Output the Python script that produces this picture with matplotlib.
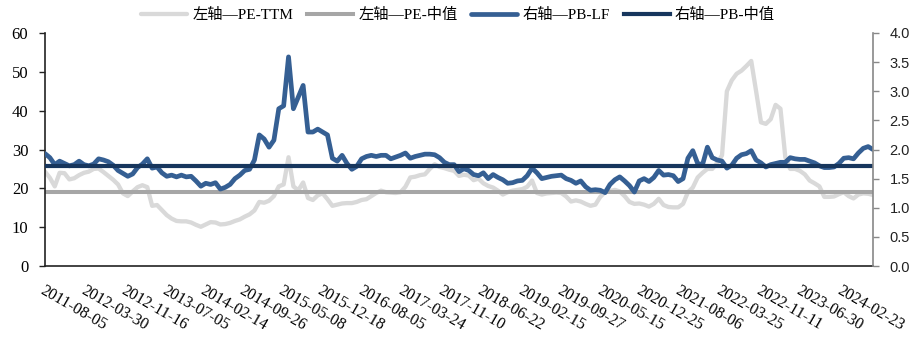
import numpy as np
import pandas as pd
import matplotlib
matplotlib.use("Agg")
import matplotlib.pyplot as plt

# Weekly valuation series, one observation every four weeks
start_date = "2011-08-05"
step = "28D"

pe_ttm = [
    24.3, 22.7, 20.5, 24.0, 23.9, 22.3, 22.6, 23.4, 24.0, 24.3,
    25.0, 25.1, 24.2, 23.2, 22.2, 21.0, 18.7, 18.0, 19.2, 20.3,
    20.8, 20.3, 15.5, 15.7, 14.4, 13.1, 12.2, 11.6, 11.5, 11.5,
    11.2, 10.6, 10.1, 10.7, 11.3, 11.2, 10.7, 10.8, 11.1, 11.6,
    12.0, 12.7, 13.3, 14.3, 16.5, 16.3, 16.8, 18.0, 20.5, 21.0,
    28.0, 20.5, 19.5, 21.5, 17.5, 17.0, 18.2, 18.7, 17.2, 15.5,
    15.8, 16.1, 16.2, 16.2, 16.5, 17.0, 17.2, 18.0, 18.8, 19.4,
    19.0, 18.9, 18.8, 19.0, 20.4, 22.8, 23.0, 23.4, 23.6, 25.0,
    26.2, 25.5, 25.2, 24.8, 24.5, 23.2, 23.5, 23.3, 22.1, 22.5,
    21.3, 20.6, 20.2, 19.4, 18.4, 19.0, 19.4, 19.6, 19.8, 20.4,
    22.0, 18.8, 18.4, 18.7, 18.8, 18.9, 18.8, 17.9, 16.6, 16.9,
    16.6, 16.0, 15.5, 15.8, 17.8, 19.0, 19.3, 19.6, 19.2, 18.0,
    16.5, 16.0, 16.1, 15.8, 15.3, 16.0, 17.3, 15.7, 15.2, 15.1,
    15.1, 16.0, 19.0, 20.2, 22.8, 24.0, 25.0, 25.0, 26.5, 28.5,
    45.0, 47.8, 49.5, 50.3, 51.5, 52.8, 45.0, 37.0, 36.6, 37.8,
    41.5, 40.5, 28.0, 25.0, 25.0, 24.5, 23.6, 22.0, 21.3, 20.5,
    17.8, 17.8, 17.9, 18.5, 19.0, 18.0, 17.4, 18.4, 18.7, 18.6,
    18.3,
]

pb_lf = [
    1.93, 1.86, 1.74, 1.80, 1.76, 1.72, 1.74, 1.80, 1.74, 1.72,
    1.75, 1.84, 1.82, 1.79, 1.73, 1.64, 1.59, 1.54, 1.58, 1.69,
    1.75, 1.84, 1.68, 1.70, 1.60, 1.54, 1.56, 1.53, 1.56, 1.53,
    1.54, 1.46, 1.37, 1.42, 1.40, 1.43, 1.32, 1.35, 1.40, 1.50,
    1.56, 1.64, 1.66, 1.82, 2.25, 2.18, 2.04, 2.16, 2.70, 2.75,
    3.59, 2.70, 2.90, 3.10, 2.30, 2.30, 2.35, 2.30, 2.25, 1.85,
    1.80, 1.90, 1.76, 1.66, 1.71, 1.84, 1.88, 1.90, 1.88, 1.90,
    1.90, 1.84, 1.87, 1.90, 1.94, 1.85, 1.88, 1.90, 1.92, 1.92,
    1.91, 1.86, 1.78, 1.74, 1.74, 1.62, 1.67, 1.64, 1.57, 1.55,
    1.60, 1.50, 1.57, 1.52, 1.48, 1.42, 1.43, 1.46, 1.47, 1.55,
    1.68, 1.60, 1.50, 1.52, 1.54, 1.55, 1.56, 1.50, 1.47, 1.42,
    1.46, 1.36, 1.30, 1.31, 1.30, 1.26, 1.40, 1.48, 1.53, 1.46,
    1.38, 1.27, 1.46, 1.50, 1.45, 1.52, 1.64, 1.56, 1.57, 1.55,
    1.45, 1.50, 1.85, 1.98, 1.76, 1.74, 2.04, 1.86, 1.82, 1.80,
    1.68, 1.73, 1.85, 1.91, 1.93, 1.98, 1.82, 1.77, 1.70, 1.74,
    1.76, 1.78, 1.78, 1.86, 1.84, 1.83, 1.83, 1.80, 1.77, 1.72,
    1.69, 1.69, 1.70, 1.76, 1.85, 1.86, 1.84, 1.94, 2.02, 2.05,
    2.00,
]

pe_median = 19.0
pb_median = 1.72

tick_labels = [
    "2011-08-05", "2012-03-30", "2012-11-16", "2013-07-05", "2014-02-14",
    "2014-09-26", "2015-05-08", "2015-12-18", "2016-08-05", "2017-03-24",
    "2017-11-10", "2018-06-22", "2019-02-15", "2019-09-27", "2020-05-15",
    "2020-12-25", "2021-08-06", "2022-03-25", "2022-11-11", "2023-06-30",
    "2024-02-23",
]

series_labels = ["左轴—PE-TTM", "左轴—PE-中值", "右轴—PB-LF", "右轴—PB-中值"]

dates = pd.date_range(start_date, periods=len(pe_ttm), freq=step)
tick_dates = pd.to_datetime(tick_labels)

serif = ["Liberation Serif", "Noto Sans CJK SC"]
plt.rcParams["font.family"] = serif

c_pe = "#d9d9d9"
c_pe_med = "#a6a6a6"
c_pb = "#355f93"
c_pb_med = "#17365d"

fig = plt.figure(figsize=(9.2, 3.38), dpi=100)
ax = fig.add_axes([45 / 920, 72 / 338, 828 / 920, 233 / 338])
ax2 = ax.twinx()

l1, = ax.plot(dates, pe_ttm, color=c_pe, lw=3.1, solid_capstyle="round",
              solid_joinstyle="round")
l2 = ax.axhline(pe_median, color=c_pe_med, lw=2.9)
l3, = ax2.plot(dates, pb_lf, color=c_pb, lw=3.4, solid_capstyle="round",
               solid_joinstyle="round")
l4 = ax2.axhline(pb_median, color=c_pb_med, lw=3.0)

ax.set_xlim(dates[0], dates[-1])
ax.set_ylim(0, 60)
ax.set_yticks(np.arange(0, 61, 10))
ax2.set_ylim(0, 4)
ax2.set_yticks(np.arange(0, 4.01, 0.5))
ax2.set_yticklabels([f"{v:.1f}" for v in np.arange(0, 4.01, 0.5)],
                    family="Liberation Sans", fontsize=10.5)

ax.set_xticks(tick_dates)
ax.set_xticklabels(tick_labels, rotation=-30, ha="left", va="top",
                   rotation_mode="anchor", fontsize=11.5)
ax.tick_params(axis="x", length=0, pad=12)
ax.tick_params(axis="y", labelsize=12, length=4, width=1, direction="out",
               color="#222222", pad=8)
ax2.tick_params(axis="y", length=4, width=1, direction="out", color="#888888",
                labelcolor="#222222", pad=8)

for a in (ax, ax2):
    a.spines["top"].set_visible(False)
ax.spines["right"].set_visible(False)
ax2.spines["left"].set_visible(False)
ax2.spines["bottom"].set_visible(False)
ax2.spines["right"].set_color("#888888")
ax2.spines["right"].set_linewidth(1.2)
ax.spines["left"].set_color("#222222")
ax.spines["bottom"].set_color("#222222")
ax.spines["left"].set_linewidth(1.2)
ax.spines["bottom"].set_linewidth(1.2)

fig.legend([l1, l2, l3, l4], series_labels, loc="center",
           bbox_to_anchor=(0.498, 0.955), ncol=4, frameon=False,
           handlelength=3.0, handletextpad=0.35, columnspacing=0.9,
           prop={"family": serif, "size": 11})

fig.savefig("out.png", dpi=100)
